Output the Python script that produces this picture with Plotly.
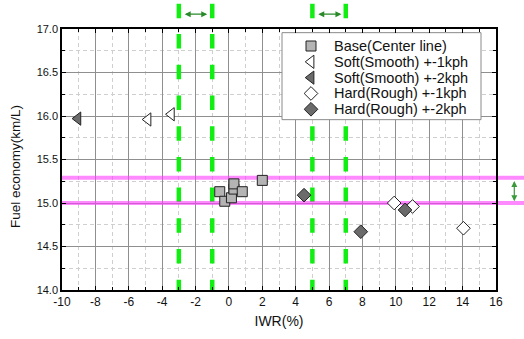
import plotly.graph_objects as go

# ---- data ----
base_x = [-0.55, -0.25, 0.15, 0.3, 0.3, 0.8, 2.0]
base_y = [15.13, 15.02, 15.06, 15.16, 15.22, 15.13, 15.26]
soft1_x = [-4.85, -3.45]
soft1_y = [15.96, 16.02]
soft2_x = [-9.05]
soft2_y = [15.97]
hard1_x = [9.9, 11.0, 14.05]
hard1_y = [15.0, 14.96, 14.71]
hard2_x = [4.5, 10.55, 7.9]
hard2_y = [15.09, 14.92, 14.67]

series_names = ["Base(Center line)", "Soft(Smooth) +-1kph", "Soft(Smooth) +-2kph",
                "Hard(Rough) +-1kph", "Hard(Rough) +-2kph"]

x_tick_vals = [-10, -8, -6, -4, -2, 0, 2, 4, 6, 8, 10, 12, 14, 16]
x_tick_text = ["-10", "-8", "-6", "-4", "-2", "0", "2", "4", "6", "8", "10", "12", "14", "16"]
y_tick_vals = [14.0, 14.5, 15.0, 15.5, 16.0, 16.5, 17.0]
y_tick_text = ["14.0", "14.5", "15.0", "15.5", "16.0", "16.5", "17.0"]

green_x = [-3, -1, 5, 7]          # vertical dashed reference lines
green_top = 17.29                 # top end of the green lines (y units)
pink_y = [15.0, 15.29]            # horizontal band lines
top_arrows = [(-2.74, -1.3), (5.26, 6.74)]
top_arrow_y = 17.17

X_RANGE = [-10, 16]
Y_RANGE = [14, 17]

DARK = "#6b6b6b"
LIGHT = "#b4b4b4"
EDGE = "#222222"
FONT = "Liberation Sans, Arial, sans-serif"

PX_PER_Y = 88.0       # plot height 264 px / 3 units
PX_PER_X = 434 / 26.0

def ydom(v):
    return (v - Y_RANGE[0]) / (Y_RANGE[1] - Y_RANGE[0])

def px_to_ydata(py):
    return Y_RANGE[0] + (293.3 - py) / PX_PER_Y

def px_to_xdata(px):
    return X_RANGE[0] + (px - 62) / PX_PER_X

fig = go.Figure()

styles = [
    dict(symbol="square", size=10, color=LIGHT),
    dict(symbol="triangle-left", size=11.5, color="white"),
    dict(symbol="triangle-left", size=11.5, color=DARK),
    dict(symbol="diamond", size=10.5, color="white"),
    dict(symbol="diamond", size=10.5, color=DARK),
]
data = [(base_x, base_y), (soft1_x, soft1_y), (soft2_x, soft2_y),
        (hard1_x, hard1_y), (hard2_x, hard2_y)]

for (xs, ys), st, name in zip(data, styles, series_names):
    fig.add_trace(go.Scatter(
        x=xs, y=ys, mode="markers", name=name, showlegend=False, cliponaxis=False,
        marker=dict(symbol=st["symbol"], size=st["size"], color=st["color"],
                    line=dict(color=EDGE, width=1))))

shapes = []
DASH_ON, DASH_OFF = 14.5, 16.2
period_y = (DASH_ON + DASH_OFF) / PX_PER_Y
green_line = dict(color="#11ee11", width=4.5, dash="%.1fpx,%.1fpx" % (DASH_ON, DASH_OFF))
for gx in green_x:
    # part above the plot area
    shapes.append(dict(type="line", xref="x", yref="y domain",
                       x0=gx, x1=gx, y0=ydom(green_top), y1=ydom(Y_RANGE[1]),
                       line=green_line, layer="below"))
    # part inside the plot area (above grid, below the legend box)
    shapes.append(dict(type="line", xref="x", yref="y",
                       x0=gx, x1=gx, y0=green_top - period_y, y1=Y_RANGE[0],
                       line=green_line, layer="between"))
# pink horizontal lines: inside plot (above grid) + extension past the right axis
pink_line = dict(color="rgba(255,60,255,0.6)", width=4)
for py in pink_y:
    shapes.append(dict(type="line", xref="x", yref="y",
                       x0=X_RANGE[0], x1=X_RANGE[1], y0=py, y1=py,
                       line=pink_line, layer="between"))
    shapes.append(dict(type="line", xref="x domain", yref="y",
                       x0=1.0, x1=1.07, y0=py, y1=py,
                       line=pink_line, layer="below"))

# manual legend box (in axis coordinates so it sits above the grid)
shapes.append(dict(type="rect", xref="x", yref="y",
                   x0=px_to_xdata(282), x1=px_to_xdata(481),
                   y0=px_to_ydata(121), y1=px_to_ydata(33),
                   fillcolor="white", line=dict(color="#8a8a8a", width=1),
                   layer="between"))

annotations = []
row_px = [46.5, 62.5, 78.5, 94.5, 110.5]
mark_x_data = px_to_xdata(311)
for rp, st, name in zip(row_px, styles, series_names):
    fig.add_trace(go.Scatter(
        x=[mark_x_data], y=[px_to_ydata(rp)], mode="markers", showlegend=False,
        cliponaxis=False, hoverinfo="skip",
        marker=dict(symbol=st["symbol"], size=st["size"], color=st["color"],
                    line=dict(color=EDGE, width=1))))
    annotations.append(dict(xref="paper", yref="paper", x=(332 - 62) / 434,
                            y=(293.3 - rp) / 264, text=name, showarrow=False,
                            xanchor="left", yanchor="middle",
                            font=dict(family=FONT, size=14.5, color="#111")))

# double arrows above the plot between green line pairs
for a0, a1 in top_arrows:
    annotations.append(dict(xref="x", yref="y domain", axref="x", ayref="y domain",
                            x=a1, y=ydom(top_arrow_y), ax=a0, ay=ydom(top_arrow_y),
                            text="", showarrow=True, arrowside="end+start",
                            arrowhead=2, arrowsize=1.0, arrowwidth=1.2,
                            arrowcolor="#2a8a2a", standoff=0, startstandoff=0))
# vertical double arrow at right between pink lines
arr_x = (514.3 - 62) / 434
annotations.append(dict(xref="x domain", yref="y", axref="x domain", ayref="y",
                        x=arr_x, y=pink_y[0] + 0.02, ax=arr_x, ay=pink_y[1] - 0.02,
                        text="", showarrow=True, arrowside="end+start",
                        arrowhead=2, arrowsize=1.0, arrowwidth=1.2,
                        arrowcolor="#3a9a3a", standoff=0, startstandoff=0))

# y title
annotations.append(dict(xref="paper", yref="paper", x=(15 - 62) / 434,
                        y=(293.3 - 169) / 264, text="Fuel economy(km/L)",
                        textangle=-90, showarrow=False, xanchor="center",
                        yanchor="middle", font=dict(family=FONT, size=13.5, color="#111")))

axis_common = dict(showline=True, linecolor="black", linewidth=1.5, mirror="allticks",
                   ticks="inside", ticklen=4, tickcolor="black", tickwidth=1,
                   showgrid=True, gridcolor="#8f8f8f", gridwidth=1, zeroline=False)

fig.update_layout(
    width=524, height=339,
    margin=dict(l=62, r=28, t=29, b=46),
    paper_bgcolor="white", plot_bgcolor="white",
    font=dict(family=FONT, color="#111"),
    shapes=shapes, annotations=annotations,
    xaxis=dict(range=X_RANGE, tickvals=x_tick_vals, ticktext=x_tick_text,
               tickfont=dict(size=12),
               title=dict(text="IWR(%)", font=dict(size=14), standoff=8),
               minor=dict(dtick=1, ticks="inside", ticklen=3, tickcolor="black",
                          showgrid=True, gridcolor="#cfcfcf", griddash="4px,3px"),
               **axis_common),
    yaxis=dict(range=Y_RANGE, tickvals=y_tick_vals, ticktext=y_tick_text,
               tickfont=dict(size=11),
               minor=dict(dtick=0.25, tick0=14, ticks="inside", ticklen=3, tickcolor="black",
                          showgrid=True, gridcolor="#cfcfcf", griddash="4px,3px"),
               **axis_common),
)

fig.write_html("out.html")
